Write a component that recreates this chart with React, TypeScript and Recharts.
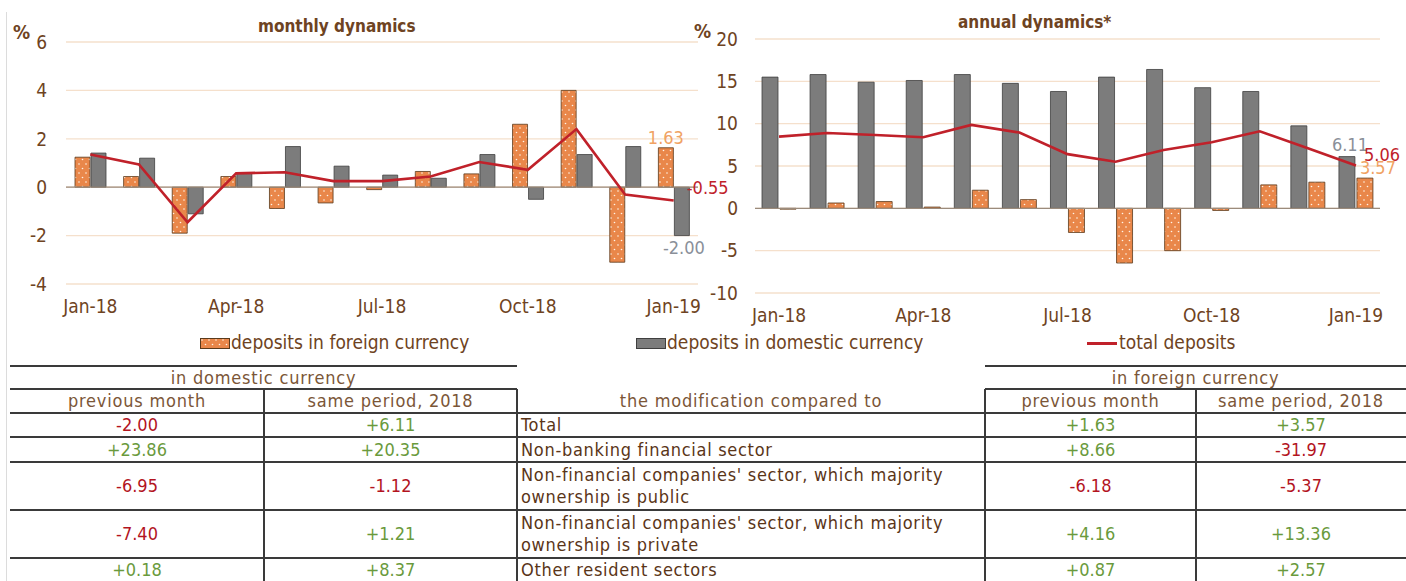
import React from "react";
import {
  ComposedChart,
  Bar,
  Line,
  XAxis,
  YAxis,
  CartesianGrid,
  ReferenceLine,
  LabelList,
} from "recharts";

const months = [
  "Jan-18", "Feb-18", "Mar-18", "Apr-18", "May-18", "Jun-18", "Jul-18",
  "Aug-18", "Sep-18", "Oct-18", "Nov-18", "Dec-18", "Jan-19",
];

// monthly dynamics, %
const monthlyForeign = [1.24, 0.44, -1.9, 0.44, -0.88, -0.65, -0.1, 0.65, 0.55, 2.6, 4.0, -3.1, 1.63];
const monthlyDomestic = [1.41, 1.2, -1.1, 0.6, 1.68, 0.87, 0.5, 0.37, 1.35, -0.5, 1.35, 1.68, -2.0];
const monthlyTotal = [1.35, 0.94, -1.45, 0.57, 0.62, 0.25, 0.25, 0.44, 1.04, 0.72, 2.4, -0.3, -0.55];
const monthlyTicks = [-4, -2, 0, 2, 4, 6];

// annual dynamics, %
const annualForeign = [-0.1, 0.63, 0.8, 0.15, 2.14, 1.03, -2.85, -6.46, -5.0, -0.25, 2.77, 3.09, 3.57];
const annualDomestic = [15.5, 15.8, 14.9, 15.1, 15.8, 14.76, 13.8, 15.5, 16.4, 14.25, 13.8, 9.74, 6.11];
const annualTotal = [8.47, 8.9, 8.67, 8.4, 9.85, 8.95, 6.4, 5.5, 6.9, 7.8, 9.1, 7.1, 5.06];
const annualTicks = [-10, -5, 0, 5, 10, 15, 20];

// table
const rowLabels = [
  "Total",
  "Non-banking financial sector",
  "Non-financial companies' sector, which majority\nownership is public",
  "Non-financial companies' sector, which majority\nownership is private",
  "Other resident sectors",
];
const domPrevMonth = ["-2.00", "+23.86", "-6.95", "-7.40", "+0.18"];
const domSamePeriod = ["+6.11", "+20.35", "-1.12", "+1.21", "+8.37"];
const forPrevMonth = ["+1.63", "+8.66", "-6.18", "+4.16", "+0.87"];
const forSamePeriod = ["+3.57", "-31.97", "-5.37", "+13.36", "+2.57"];

const FONT = "'Liberation Sans Narrow', 'DejaVu Sans Condensed', sans-serif";
const BROWN = "#6e4322";
const ORANGE = "#e9874a";
const GRAY = "#7c7c7c";
const RED = "#c0212a";
const GREEN = "#6a9a3c";
const NEG = "#b3141e";

const last = months.length - 1;
const buildData = (f: number[], d: number[], t: number[]) =>
  months.map((m, i) => ({
    month: m,
    foreign: f[i],
    domestic: d[i],
    total: t[i],
    foreignLbl: i === last ? f[i].toFixed(2) : undefined,
    domesticLbl: i === last ? d[i].toFixed(2) : undefined,
    totalLbl: i === last ? t[i].toFixed(2) : undefined,
  }));

const monthlyData = buildData(monthlyForeign, monthlyDomestic, monthlyTotal);
const annualData = buildData(annualForeign, annualDomestic, annualTotal);

const valueLabel =
  (color: string, where: "top" | "bottom" | "point", dx = 0, dy = 0) =>
  (props: any) => {
    const { value } = props;
    if (value === undefined || value === null || value === "") return null;
    const vb = props.viewBox || {};
    const x = props.x ?? vb.x;
    const y = props.y ?? vb.y;
    const w = props.width ?? vb.width ?? 0;
    const h = props.height ?? vb.height ?? 0;
    let cx = x + w / 2;
    let cy = y;
    if (where === "top") cy = Math.min(y, y + h) - 10;
    if (where === "bottom") cy = Math.max(y, y + h) + 12;
    return (
      <text
        x={cx + dx}
        y={cy + dy}
        fill={color}
        fontSize={18}
        fontFamily={FONT}
        textAnchor="middle"
        dominantBaseline="central"
      >
        {value}
      </text>
    );
  };

const tickStyle = { fill: BROWN, fontSize: 19, fontFamily: FONT };

const PatternDefs = () => (
  <svg width={0} height={0} style={{ position: "absolute" }}>
    <defs>
      <pattern id="orangeDots" width="7" height="9" patternUnits="userSpaceOnUse">
        <rect width="7" height="9" fill={ORANGE} />
        <circle cx="2" cy="2" r="0.8" fill="#fff4e8" />
        <circle cx="5.5" cy="6.5" r="0.8" fill="#fff4e8" />
      </pattern>
    </defs>
  </svg>
);

const MonthlyChart = () => (
  <ComposedChart
    width={740}
    height={330}
    data={monthlyData}
    margin={{ top: 42, right: 42, bottom: 16, left: 0 }}
    barGap={1}
  >
    <CartesianGrid vertical={false} stroke="#f5e0cc" strokeWidth={1.3} />
    <XAxis
      dataKey="month"
      interval={2}
      axisLine={false}
      tickLine={false}
      height={30}
      tickMargin={10}
      tick={tickStyle}
    />
    <YAxis
      domain={[-4, 6]}
      ticks={monthlyTicks}
      width={66}
      axisLine={false}
      tickLine={false}
      tickMargin={13}
      tick={tickStyle}
    />
    <ReferenceLine y={0} stroke="#9b8b7c" strokeWidth={1.3} />
    <Bar dataKey="foreign" fill="url(#orangeDots)" stroke="#5a3a1c" strokeWidth={0.8} barSize={15} isAnimationActive={false}>
      <LabelList dataKey="foreignLbl" content={valueLabel("#f0a263", "top")} />
    </Bar>
    <Bar dataKey="domestic" fill={GRAY} stroke="#3f3f3f" strokeWidth={0.8} barSize={15} isAnimationActive={false}>
      <LabelList dataKey="domesticLbl" content={valueLabel("#8a8f99", "bottom", 2)} />
    </Bar>
    <Line type="linear" dataKey="total" stroke={RED} strokeWidth={2.6} dot={false} isAnimationActive={false}>
      <LabelList dataKey="totalLbl" content={valueLabel(RED, "point", 34, -13)} />
    </Line>
  </ComposedChart>
);

const AnnualChart = () => (
  <ComposedChart
    width={716}
    height={330}
    data={annualData}
    margin={{ top: 39, right: 26, bottom: 7, left: 0 }}
    barGap={2}
  >
    <CartesianGrid vertical={false} stroke="#f5e0cc" strokeWidth={1.3} />
    <XAxis
      dataKey="month"
      interval={2}
      axisLine={false}
      tickLine={false}
      height={30}
      tickMargin={10}
      tick={tickStyle}
    />
    <YAxis
      domain={[-10, 20]}
      ticks={annualTicks}
      width={65}
      axisLine={false}
      tickLine={false}
      tickMargin={11}
      tick={tickStyle}
    />
    <ReferenceLine y={0} stroke="#9b8b7c" strokeWidth={1.3} />
    <Bar dataKey="domestic" fill={GRAY} stroke="#3f3f3f" strokeWidth={0.8} barSize={16} isAnimationActive={false}>
      <LabelList dataKey="domesticLbl" content={valueLabel("#8a8f99", "top", 3, -2)} />
    </Bar>
    <Bar dataKey="foreign" fill="url(#orangeDots)" stroke="#5a3a1c" strokeWidth={0.8} barSize={16} isAnimationActive={false}>
      <LabelList dataKey="foreignLbl" content={valueLabel("#f0a263", "top", 13, -1)} />
    </Bar>
    <Line type="linear" dataKey="total" stroke={RED} strokeWidth={2.6} dot={false} isAnimationActive={false}>
      <LabelList dataKey="totalLbl" content={valueLabel(RED, "point", 26, -11)} />
    </Line>
  </ComposedChart>
);

const colX = [10, 264, 517, 985, 1196, 1406];
const rowY = [413, 437, 462, 510, 558, 581];
const LINE = "#3a3a3a";

const HLine = ({ x1, x2, y }: { x1: number; x2: number; y: number }) => (
  <div style={{ position: "absolute", left: x1, top: y - 1, width: x2 - x1, height: 1.6, background: LINE }} />
);
const VLine = ({ x, y1, y2 }: { x: number; y1: number; y2: number }) => (
  <div style={{ position: "absolute", left: x - 1, top: y1, width: 1.6, height: y2 - y1, background: LINE }} />
);

const Cell = ({
  x1, x2, y1, y2, text, color, align = "center", spacing = 0,
}: {
  x1: number; x2: number; y1: number; y2: number; text: string; color: string;
  align?: "center" | "left"; spacing?: number;
}) => (
  <div
    style={{
      position: "absolute",
      left: x1 + (align === "left" ? 4 : 0),
      top: y1,
      width: x2 - x1,
      height: y2 - y1,
      display: "flex",
      alignItems: "center",
      justifyContent: align === "left" ? "flex-start" : "center",
      color,
      fontSize: 18,
      lineHeight: "22px",
      letterSpacing: spacing,
      whiteSpace: "pre-line",
    }}
  >
    {text}
  </div>
);

const numColor = (s: string) => (s.startsWith("-") ? NEG : GREEN);

const Table = () => (
  <>
    <HLine x1={colX[0]} x2={colX[2]} y={366} />
    <HLine x1={colX[3]} x2={colX[5]} y={366} />
    <HLine x1={colX[0]} x2={colX[2]} y={389} />
    <HLine x1={colX[3]} x2={colX[5]} y={389} />
    {rowY.slice(0, 5).map((y) => (
      <HLine key={y} x1={colX[0]} x2={colX[5]} y={y} />
    ))}
    {[colX[1], colX[2], colX[3], colX[4]].map((x) => (
      <VLine key={x} x={x} y1={389} y2={581} />
    ))}
    <Cell x1={colX[0]} x2={colX[2]} y1={366} y2={389} text="in domestic currency" color="#7b5637" spacing={0.8} />
    <Cell x1={colX[3]} x2={colX[5]} y1={366} y2={389} text="in foreign currency" color="#7b5637" spacing={0.8} />
    <Cell x1={colX[0]} x2={colX[1]} y1={389} y2={413} text="previous month" color="#7b5637" spacing={0.8} />
    <Cell x1={colX[1]} x2={colX[2]} y1={389} y2={413} text="same period, 2018" color="#7b5637" spacing={0.8} />
    <Cell x1={colX[2]} x2={colX[3]} y1={389} y2={413} text="the modification compared to" color="#7b5637" spacing={0.8} />
    <Cell x1={colX[3]} x2={colX[4]} y1={389} y2={413} text="previous month" color="#7b5637" spacing={0.8} />
    <Cell x1={colX[4]} x2={colX[5]} y1={389} y2={413} text="same period, 2018" color="#7b5637" spacing={0.8} />
    {rowLabels.map((label, i) => {
      const y1 = i === 0 ? 413 : rowY[i];
      const y2 = rowY[i + 1];
      return (
        <React.Fragment key={label}>
          <Cell x1={colX[0]} x2={colX[1]} y1={y1} y2={y2} text={domPrevMonth[i]} color={numColor(domPrevMonth[i])} />
          <Cell x1={colX[1]} x2={colX[2]} y1={y1} y2={y2} text={domSamePeriod[i]} color={numColor(domSamePeriod[i])} />
          <Cell x1={colX[2]} x2={colX[3]} y1={y1} y2={y2} text={label} color="#5a3518" align="left" spacing={0.7} />
          <Cell x1={colX[3]} x2={colX[4]} y1={y1} y2={y2} text={forPrevMonth[i]} color={numColor(forPrevMonth[i])} />
          <Cell x1={colX[4]} x2={colX[5]} y1={y1} y2={y2} text={forSamePeriod[i]} color={numColor(forSamePeriod[i])} />
        </React.Fragment>
      );
    })}
  </>
);

const Legend = () => (
  <div style={{ position: "absolute", top: 331, left: 0, height: 24, width: 1406, color: BROWN, fontSize: 19 }}>
    <svg style={{ position: "absolute", left: 200, top: 7 }} width={30} height={11}>
      <rect x={0.5} y={0.5} width={29} height={10} fill="url(#orangeDots)" stroke="#5a3a1c" strokeWidth={1} />
    </svg>
    <div style={{ position: "absolute", left: 231, top: 0 }}>deposits in foreign currency</div>
    <div style={{ position: "absolute", left: 636, top: 7, width: 28, height: 9, backgroundColor: GRAY, border: "1px solid #3f3f3f" }} />
    <div style={{ position: "absolute", left: 667, top: 0 }}>deposits in domestic currency</div>
    <div style={{ position: "absolute", left: 1087, top: 11, width: 30, height: 3, backgroundColor: RED }} />
    <div style={{ position: "absolute", left: 1119, top: 0 }}>total deposits</div>
  </div>
);

export default function App() {
  return (
    <div
      style={{
        position: "absolute",
        left: 0,
        top: 0,
        width: 1406,
        height: 581,
        background: "#fff",
        fontFamily: FONT,
        overflow: "hidden",
      }}
    >
      <PatternDefs />
      <div style={{ position: "absolute", left: 6, top: 12, width: 1, height: 569, background: "#dcdcdc" }} />
      <div style={{ position: "absolute", left: 0, top: 0 }}>
        <MonthlyChart />
      </div>
      <div style={{ position: "absolute", left: 690, top: 0 }}>
        <AnnualChart />
      </div>
      <div style={{ position: "absolute", left: 258, top: 16, fontSize: 17, fontWeight: "bold", color: BROWN }}>
        monthly dynamics
      </div>
      <div style={{ position: "absolute", left: 958, top: 12, fontSize: 17, fontWeight: "bold", color: BROWN }}>
        annual dynamics*
      </div>
      <div style={{ position: "absolute", left: 13, top: 21, fontSize: 19, fontWeight: "bold", color: BROWN }}>%</div>
      <div style={{ position: "absolute", left: 694, top: 20, fontSize: 19, fontWeight: "bold", color: BROWN }}>%</div>
      <Legend />
      <Table />
    </div>
  );
}
